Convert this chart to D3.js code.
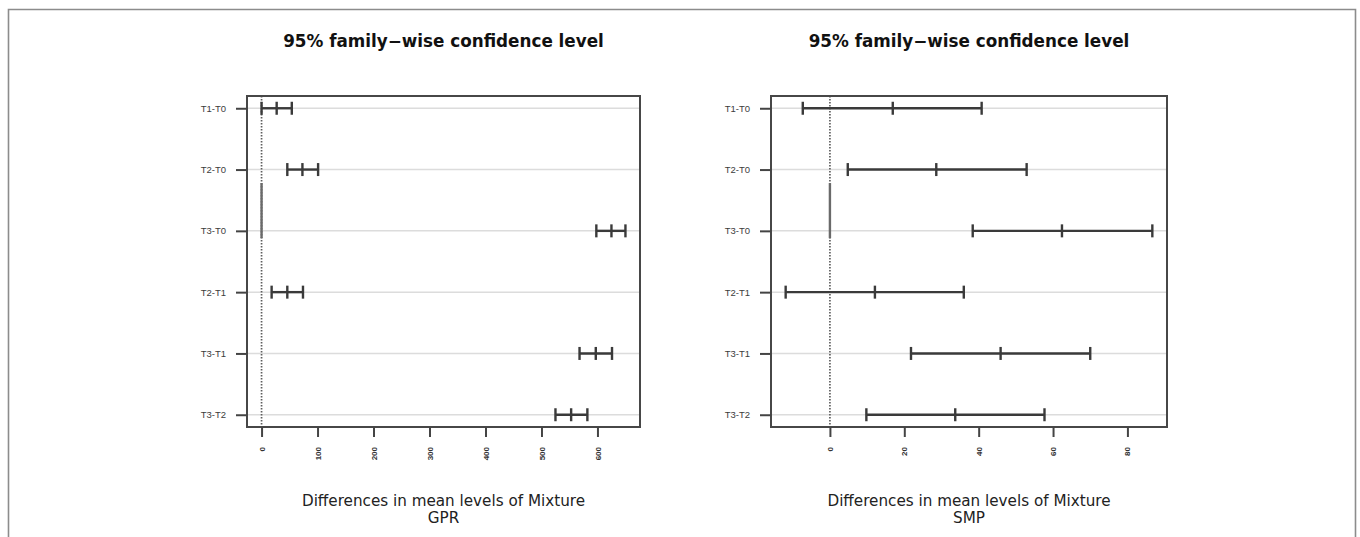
<!DOCTYPE html>
<html>
<head>
<meta charset="utf-8">
<script src="https://cdn.jsdelivr.net/npm/d3@7"></script>
<style>
  body { margin: 0; background: #fff; }
  svg { display: block; }
</style>
</head>
<body>
<svg id="chart" width="1360" height="537"></svg>
<script>
// Tukey HSD pairwise comparisons of Mixture levels
const comparisons = ["T1-T0", "T2-T0", "T3-T0", "T2-T1", "T3-T1", "T3-T2"];

// GPR: difference in means with lower / upper 95% family-wise bounds
const gprDiff = [27, 73, 625, 46, 597, 553];
const gprLwr  = [0, 46, 598, 18, 568, 525];
const gprUpr  = [54, 101, 650, 74, 626, 582];

// SMP: difference in means with lower / upper 95% family-wise bounds
const smpDiff = [16.9, 28.6, 62.4, 12.1, 45.9, 33.7];
const smpLwr  = [-7.3, 4.8, 38.4, -11.9, 21.8, 9.8];
const smpUpr  = [40.8, 52.9, 86.7, 36.0, 70.0, 57.7];

// Axis tick labels
const gprTicks = [0, 100, 200, 300, 400, 500, 600];
const smpTicks = [0, 20, 40, 60, 80];

const titleText = "95% family\u2212wise confidence level";
const xLabelText = "Differences in mean levels of Mixture";
const responseNames = ["GPR", "SMP"];

// Stretch of the zero reference line drawn solid (row units)
const zeroSolidSpan = [2.22, 3.12];

const svg = d3.select("#chart");

// Outer frame
svg.append("path")
  .attr("d", "M8.5,545 V9.5 H1355.5 V545")
  .attr("fill", "none")
  .attr("stroke", "#8c8c8c")
  .attr("stroke-width", 1.6);

const panels = [
  { name: responseNames[0], diff: gprDiff, lwr: gprLwr, upr: gprUpr, ticks: gprTicks, x0: 247, x1: 640 },
  { name: responseNames[1], diff: smpDiff, lwr: smpLwr, upr: smpUpr, ticks: smpTicks, x0: 771, x1: 1167 }
];
const plotTop = 96, plotBottom = 427;
const ink = "#3a3a3a";

panels.forEach(p => {
  const rows = comparisons.map((c, i) => ({ c, i: i + 1, d: p.diff[i], lo: p.lwr[i], hi: p.upr[i] }));

  // x range padded by 4% on each side
  const ext = [d3.min(p.lwr), d3.max(p.upr)];
  const pad = (ext[1] - ext[0]) * 0.04;
  const x = d3.scaleLinear().domain([ext[0] - pad, ext[1] + pad]).range([p.x0, p.x1]);
  const y = d3.scaleLinear().domain([0.8, comparisons.length + 0.2]).range([plotTop, plotBottom]);

  const g = svg.append("g");

  // horizontal guide lines
  g.selectAll("line.grid").data(rows).join("line")
    .attr("class", "grid")
    .attr("x1", p.x0).attr("x2", p.x1)
    .attr("y1", d => y(d.i)).attr("y2", d => y(d.i))
    .attr("stroke", "#dcdcdc").attr("stroke-width", 1.5);

  // zero reference line
  g.append("line")
    .attr("x1", x(0)).attr("x2", x(0))
    .attr("y1", plotTop).attr("y2", plotBottom)
    .attr("stroke", "#5e5e5e").attr("stroke-width", 1.7)
    .attr("stroke-dasharray", "1.6,1.4");
  g.append("line")
    .attr("x1", x(0)).attr("x2", x(0))
    .attr("y1", y(zeroSolidSpan[0])).attr("y2", y(zeroSolidSpan[1]))
    .attr("stroke", "#6a6a6a").attr("stroke-width", 2.4);

  // confidence intervals
  const ci = g.selectAll("g.ci").data(rows).join("g").attr("class", "ci");
  ci.append("line")
    .attr("x1", d => x(d.lo)).attr("x2", d => x(d.hi))
    .attr("y1", d => y(d.i)).attr("y2", d => y(d.i))
    .attr("stroke", ink).attr("stroke-width", 2.4);
  ["lo", "d", "hi"].forEach(k => {
    ci.append("line")
      .attr("x1", d => x(d[k])).attr("x2", d => x(d[k]))
      .attr("y1", d => y(d.i) - 6.5).attr("y2", d => y(d.i) + 6.5)
      .attr("stroke", ink).attr("stroke-width", 2.4);
  });

  // plot box
  g.append("rect")
    .attr("x", p.x0).attr("y", plotTop)
    .attr("width", p.x1 - p.x0).attr("height", plotBottom - plotTop)
    .attr("fill", "none").attr("stroke", "#474747").attr("stroke-width", 2);

  // x axis with rotated labels
  const xa = g.append("g").attr("transform", `translate(0,${plotBottom})`)
    .call(d3.axisBottom(x).tickValues(p.ticks).tickSize(10).tickSizeOuter(0).tickFormat(d3.format("d")));
  xa.select(".domain").remove();
  xa.selectAll(".tick line").attr("stroke", "#444").attr("stroke-width", 2);
  xa.selectAll(".tick text")
    .attr("fill", "#333")
    .attr("font-family", "Liberation Sans, Arial, sans-serif")
    .attr("font-weight", "bold")
    .attr("font-size", 8)
    .attr("text-anchor", "end")
    .attr("dy", "0.32em")
    .attr("transform", "translate(0,20) rotate(-90)")
    .attr("x", 0).attr("y", 0);

  // y axis with comparison names
  const ya = g.append("g").attr("transform", `translate(${p.x0},0)`)
    .call(d3.axisLeft(y).tickValues(rows.map(d => d.i)).tickSize(11).tickSizeOuter(0)
      .tickFormat(v => comparisons[v - 1]));
  ya.select(".domain").remove();
  ya.selectAll(".tick line").attr("stroke", "#444").attr("stroke-width", 2);
  ya.selectAll(".tick text")
    .attr("fill", "#3c3c3c")
    .attr("font-family", "Liberation Sans, Arial, sans-serif")
    .attr("font-size", 9.5)
    .attr("x", -21);

  const cx = (p.x0 + p.x1) / 2;
  svg.append("text")
    .attr("x", cx).attr("y", 47)
    .attr("text-anchor", "middle")
    .attr("font-family", "DejaVu Sans, sans-serif")
    .attr("font-weight", "bold")
    .attr("font-size", 16.8)
    .attr("fill", "#111")
    .text(titleText);

  svg.append("text")
    .attr("x", cx).attr("y", 506)
    .attr("text-anchor", "middle")
    .attr("font-family", "DejaVu Sans, sans-serif")
    .attr("font-size", 15.2)
    .attr("fill", "#222")
    .text(xLabelText);
  svg.append("text")
    .attr("x", cx).attr("y", 523)
    .attr("text-anchor", "middle")
    .attr("font-family", "DejaVu Sans, sans-serif")
    .attr("font-size", 15.2)
    .attr("fill", "#222")
    .text(p.name);
});
</script>
</body>
</html>
